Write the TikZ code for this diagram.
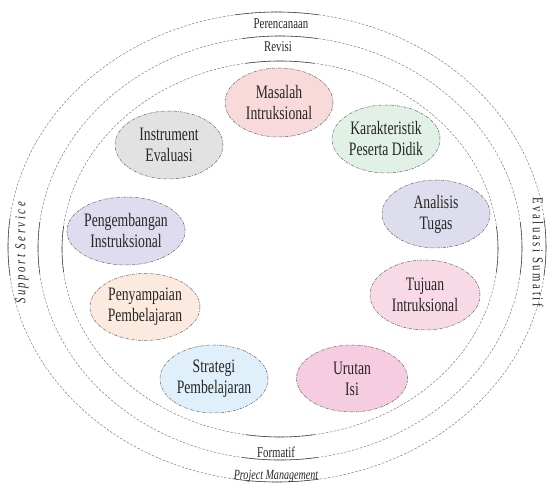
\documentclass[tikz,border=0pt]{standalone}
\usepackage{fontspec}
\setmainfont{Liberation Serif}[FakeStretch=0.72]
\usetikzlibrary{shapes.geometric}
\definecolor{cMasalah}{HTML}{F9DADB}
\definecolor{cKarak}{HTML}{E2F1E5}
\definecolor{cInstr}{HTML}{E2E2E2}
\definecolor{cAnal}{HTML}{DEDDED}
\definecolor{cPeng}{HTML}{DEDCEE}
\definecolor{cTuj}{HTML}{F8DAE6}
\definecolor{cPeny}{HTML}{FCEADF}
\definecolor{cStrat}{HTML}{DFF0FA}
\definecolor{cUrut}{HTML}{F5CCE0}
\definecolor{ringgray}{HTML}{808080}
\definecolor{txt}{HTML}{262626}
\tikzset{
  ring/.style={draw=ringgray, line width=0.5pt, dash pattern=on 2.5pt off 1.5pt},
  ringsolid/.style={draw=black!70, line width=0.6pt},
  item/.style={ellipse, draw=black!60, line width=0.5pt, dash pattern=on 3pt off 1.2pt on 0.8pt off 1.2pt,
    inner sep=0pt, align=center, text=txt, font=\fontsize{19}{21}\selectfont,
    minimum width=108pt, minimum height=68pt},
  lab/.style={text=txt, inner sep=1pt, font=\fontsize{15}{17}\selectfont},
}
\begin{document}
\begin{tikzpicture}[x=1pt,y=1pt]
\useasboundingbox (0,0) rectangle (548,484);
% concentric rings
\draw[ring] (277,237) ellipse[x radius=269, y radius=235];
\draw[ring] (280,236) ellipse[x radius=242, y radius=212];
\draw[ring] (280,235) ellipse[x radius=218, y radius=188];
% darker solid portions near extreme points
\foreach \cx/\cy/\rx/\ry in {277/237/269/235, 280/236/242/212, 280/235/218/188}{
  \foreach \a in {90,270}{
    \draw[ringsolid] ([shift={(\cx,\cy)}]\a-9:\rx pt and \ry pt) arc[start angle=\a-9, end angle=\a+9, x radius=\rx pt, y radius=\ry pt];
  }
  \foreach \a in {0,180}{
    \draw[ringsolid] ([shift={(\cx,\cy)}]\a-7:\rx pt and \ry pt) arc[start angle=\a-7, end angle=\a+7, x radius=\rx pt, y radius=\ry pt];
  }
}
% ring labels
\node[lab] (perencanaan) at (281,460) {Perencanaan};
\node[lab] (revisi) at (278,437) {Revisi};
\node[lab] (formatif) at (276,32) {Formatif};
\node[lab, font=\fontsize{14}{16}\selectfont\itshape] (pm) at (276,8) {Project Management};
\node[lab, rotate=90, font=\fontsize{15}{17}\selectfont\itshape\addfontfeature{LetterSpace=17}] (support) at (22,231) {Support Service};
\node[lab, rotate=-90, font=\fontsize{15}{17}\selectfont\addfontfeature{LetterSpace=17}] (sumatif) at (538,232) {Evaluasi Sumatif};
% items
\node[item, fill=cMasalah, minimum height=69pt] (masalah) at (279,381.5) {Masalah\\Intruksional};
\node[item, fill=cKarak] (karak) at (386,345) {Karakteristik\\Peserta Didik};
\node[item, fill=cInstr] (instr) at (169,339) {Instrument\\Evaluasi};
\node[item, fill=cAnal] (anal) at (436,270) {Analisis\\Tugas};
\node[item, fill=cPeng] (peng) at (126,253) {Pengembangan\\Instruksional};
\node[item, fill=cTuj, minimum width=110pt, minimum height=70pt] (tujuan) at (425,189) {Tujuan\\Intruksional};
\node[item, fill=cPeny, minimum width=110pt, minimum height=67pt] (peny) at (145,177) {Penyampaian\\Pembelajaran};
\node[item, fill=cStrat] (strat) at (214,105) {Strategi\\Pembelajaran};
\node[item, fill=cUrut, minimum width=111pt, minimum height=67pt] (urutan) at (352,105.5) {Urutan\\Isi};
\end{tikzpicture}
\end{document}
